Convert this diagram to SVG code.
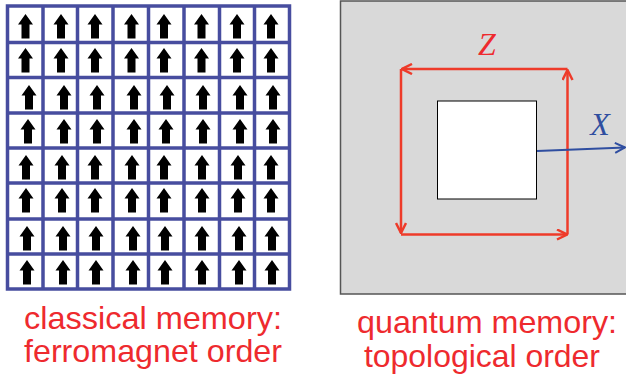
<svg xmlns="http://www.w3.org/2000/svg" xmlns:xlink="http://www.w3.org/1999/xlink" width="626" height="381" viewBox="0 0 626 381">
<style>
.grid{stroke:#474d9f;stroke-width:3.5;fill:none}
.lbl{font-family:"Liberation Sans",Arial,sans-serif;font-size:31.5px;fill:#ee2a2e}
.op{font-family:"Liberation Serif","Times New Roman",serif;font-style:italic;font-size:32px}
.loop{stroke:#ee3b2a;stroke-width:2.5;fill:none;marker-end:url(#vred)}
</style>
<defs>
<path id="ar" d="M0,-11 L7.5,-0.5 L4,-0.5 L4,13.5 L-4,13.5 L-4,-0.5 L-7.5,-0.5 Z" fill="#000"/>
<marker id="vred" viewBox="0 0 12 12" refX="11" refY="6" markerWidth="12" markerHeight="12" markerUnits="userSpaceOnUse" orient="auto">
<path d="M1,1 L11,6 L1,11" fill="none" stroke="#ee3b2a" stroke-width="2.5"/>
</marker>
<marker id="vblue" viewBox="0 0 12 12" refX="11" refY="6" markerWidth="12" markerHeight="12" markerUnits="userSpaceOnUse" orient="auto">
<path d="M1,1 L11,6 L1,11" fill="none" stroke="#2f4ea0" stroke-width="2"/>
</marker>
</defs>
<g id="ferromagnet">
<rect x="7.5" y="6" width="282" height="283" fill="#fff"/>
<g id="arrows">
<use xlink:href="#ar" x="25.5" y="25"/><use xlink:href="#ar" x="61" y="25"/><use xlink:href="#ar" x="95" y="25"/><use xlink:href="#ar" x="131.5" y="25"/><use xlink:href="#ar" x="164" y="25"/><use xlink:href="#ar" x="201.5" y="25"/><use xlink:href="#ar" x="237" y="25"/><use xlink:href="#ar" x="271" y="25"/>
<use xlink:href="#ar" x="25.5" y="59"/><use xlink:href="#ar" x="61" y="59"/><use xlink:href="#ar" x="95" y="59"/><use xlink:href="#ar" x="131.5" y="59"/><use xlink:href="#ar" x="164" y="59"/><use xlink:href="#ar" x="201.5" y="59"/><use xlink:href="#ar" x="237" y="59"/><use xlink:href="#ar" x="271" y="59"/>
<use xlink:href="#ar" x="29" y="96"/><use xlink:href="#ar" x="64" y="96"/><use xlink:href="#ar" x="97" y="96"/><use xlink:href="#ar" x="134" y="96"/><use xlink:href="#ar" x="167" y="96"/><use xlink:href="#ar" x="203" y="96"/><use xlink:href="#ar" x="240" y="96"/><use xlink:href="#ar" x="273" y="96"/>
<use xlink:href="#ar" x="28" y="130"/><use xlink:href="#ar" x="64" y="130"/><use xlink:href="#ar" x="97" y="130"/><use xlink:href="#ar" x="134" y="130"/><use xlink:href="#ar" x="166" y="130"/><use xlink:href="#ar" x="203" y="130"/><use xlink:href="#ar" x="240" y="130"/><use xlink:href="#ar" x="273" y="130"/>
<use xlink:href="#ar" x="26" y="166"/><use xlink:href="#ar" x="62" y="166"/><use xlink:href="#ar" x="95" y="166"/><use xlink:href="#ar" x="132" y="166"/><use xlink:href="#ar" x="164" y="166"/><use xlink:href="#ar" x="202" y="166"/><use xlink:href="#ar" x="238" y="166"/><use xlink:href="#ar" x="271" y="166"/>
<use xlink:href="#ar" x="26" y="199"/><use xlink:href="#ar" x="62" y="199"/><use xlink:href="#ar" x="95" y="199"/><use xlink:href="#ar" x="132" y="199"/><use xlink:href="#ar" x="164" y="199"/><use xlink:href="#ar" x="202" y="199"/><use xlink:href="#ar" x="238" y="199"/><use xlink:href="#ar" x="271" y="199"/>
<use xlink:href="#ar" x="27" y="237"/><use xlink:href="#ar" x="63" y="237"/><use xlink:href="#ar" x="96" y="237"/><use xlink:href="#ar" x="133" y="237"/><use xlink:href="#ar" x="165" y="237"/><use xlink:href="#ar" x="202" y="237"/><use xlink:href="#ar" x="239" y="237"/><use xlink:href="#ar" x="272" y="237"/>
<use xlink:href="#ar" x="27" y="271"/><use xlink:href="#ar" x="63" y="271"/><use xlink:href="#ar" x="96" y="271"/><use xlink:href="#ar" x="133" y="271"/><use xlink:href="#ar" x="165" y="271"/><use xlink:href="#ar" x="202" y="271"/><use xlink:href="#ar" x="239" y="271"/><use xlink:href="#ar" x="272" y="271"/>
</g>
<path class="grid" d="M7.5,6 H289.5 V289 H7.5 Z M43,6 V289 M77.5,6 V289 M113,6 V289 M148.5,6 V289 M184,6 V289 M219.5,6 V289 M254.5,6 V289 M7.5,42.5 H289.5 M7.5,77.5 H289.5 M7.5,113 H289.5 M7.5,148 H289.5 M7.5,183 H289.5 M7.5,219 H289.5 M7.5,254 H289.5"/>
</g>
<g id="topological">
<rect x="340.5" y="1" width="300" height="293" fill="#d9d9d9" stroke="#555" stroke-width="1.5"/>
<rect id="hole" x="437.5" y="101" width="99" height="98" fill="#fff" stroke="#000" stroke-width="1"/>
</g>
<g id="connectors">
<line class="loop" x1="567.5" y1="69" x2="402" y2="69"/>
<line class="loop" x1="401" y1="69" x2="401" y2="233"/>
<line class="loop" x1="401" y1="234.5" x2="567" y2="234.5"/>
<line class="loop" x1="567.5" y1="234.5" x2="567.5" y2="70"/>
<line x1="537" y1="151" x2="625" y2="147.5" stroke="#2f4ea0" stroke-width="2" marker-end="url(#vblue)"/>
</g>
<text class="op" x="487" y="55" text-anchor="middle" fill="#ee2a2e">Z</text>
<text class="op" x="600" y="135" text-anchor="middle" fill="#2f4ea0">X</text>
<g id="labels">
<text class="lbl" x="24" y="329" textLength="258" lengthAdjust="spacingAndGlyphs">classical memory:</text>
<text class="lbl" x="24" y="362" textLength="258" lengthAdjust="spacingAndGlyphs">ferromagnet order</text>
<text class="lbl" x="357" y="333" textLength="260" lengthAdjust="spacingAndGlyphs">quantum memory:</text>
<text class="lbl" x="364" y="367" textLength="236" lengthAdjust="spacingAndGlyphs">topological order</text>
</g>
</svg>
